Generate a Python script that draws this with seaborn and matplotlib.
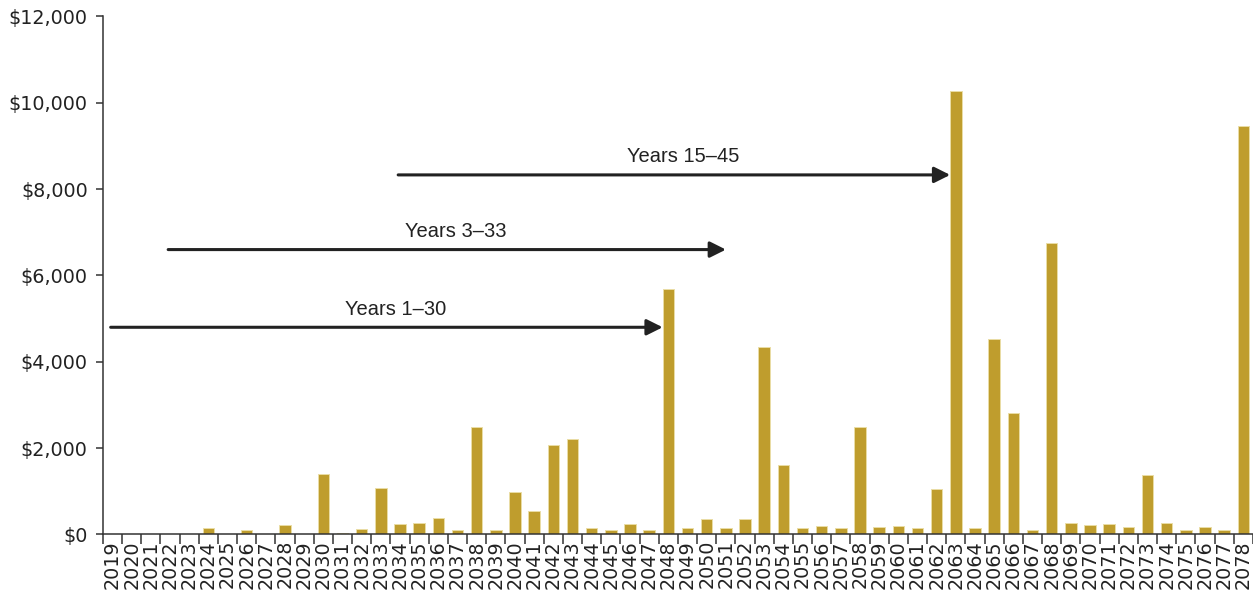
import matplotlib
matplotlib.use("Agg")
import matplotlib.pyplot as plt
import seaborn as sns
import pandas as pd
from matplotlib.ticker import FuncFormatter, FixedLocator

# Annual amounts, 2019-2078
years = [str(y) for y in range(2019, 2079)]
amounts = [0, 5, 0, 0, 10, 160, 0, 100, 5, 225,
           10, 1390, 30, 130, 1075, 232, 255, 380, 108, 2485,
           108, 990, 540, 2065, 2205, 155, 93, 248, 100, 5690,
           155, 364, 147, 348, 4340, 1610, 147, 200, 147, 2490,
           162, 193, 147, 1060, 10280, 155, 4530, 2825, 100, 6755,
           271, 217, 232, 162, 1377, 255, 100, 178, 100, 9470]

# Holding-period spans shown as arrows
span_labels = ["Years 1\u201330", "Years 3\u201333", "Years 15\u201345"]
span_start = ["2019", "2022", "2034"]
span_end = ["2048", "2051", "2063"]
span_level = [4800, 6600, 8330]

y_ticks = [0, 2000, 4000, 6000, 8000, 10000, 12000]

sns.set_style("white")
plt.rcParams["font.family"] = ["DejaVu Sans"]

df = pd.DataFrame({"year": years, "amount": amounts})

fig = plt.figure(figsize=(12.53, 5.93), dpi=100)
ax = fig.add_axes([0.0822, 0.0987, 0.9178, 0.8735])

bar_color = "#BF9D2D"
sns.barplot(data=df, x="year", y="amount", color=bar_color, saturation=1,
            width=0.6, edgecolor="#EADDA5", linewidth=0.7, ax=ax)

ax.set_xlim(-0.5, len(years) - 0.5)
ax.set_ylim(0, 12000)
ax.set_yticks(y_ticks)
ax.yaxis.set_major_formatter(FuncFormatter(lambda v, p: f"${v:,.0f}"))
ax.set_xlabel("")
ax.set_ylabel("")

# Labels under each bar, tick marks between categories
ax.tick_params(axis="x", which="major", length=0, labelrotation=90,
               labelsize=13.8, labelcolor="#222222", pad=4)
ax.xaxis.set_minor_locator(FixedLocator([i - 0.5 for i in range(len(years) + 1)]))
ax.tick_params(axis="x", which="minor", length=7, width=1.1,
               color="#333333", direction="out", bottom=True)
ax.tick_params(axis="y", length=5, width=1.1, color="#333333",
               direction="out", left=True, labelsize=13.8,
               labelcolor="#222222", pad=6)

for side in ["top", "right"]:
    ax.spines[side].set_visible(False)
for side in ["left", "bottom"]:
    ax.spines[side].set_color("#333333")
    ax.spines[side].set_linewidth(1.1)

# Arrows marking each holding period
value_by_year = dict(zip(years, amounts))
for label, s, e, lvl in zip(span_labels, span_start, span_end, span_level):
    x0 = years.index(s)
    x1 = years.index(e)
    tip = x1 - 0.3 if value_by_year[e] > lvl else x1
    ax.annotate("", xy=(tip, lvl), xytext=(x0 - 0.1, lvl),
                arrowprops=dict(arrowstyle="-|>", color="#222222", lw=2.2,
                                mutation_scale=24, shrinkA=0, shrinkB=0))
    ax.text((x0 + tip) / 2 + 0.4, lvl + 290, label, ha="center", va="baseline",
            fontsize=14.5, color="#222222", family=["Liberation Sans", "DejaVu Sans"])

fig.savefig("out.png", dpi=100)
